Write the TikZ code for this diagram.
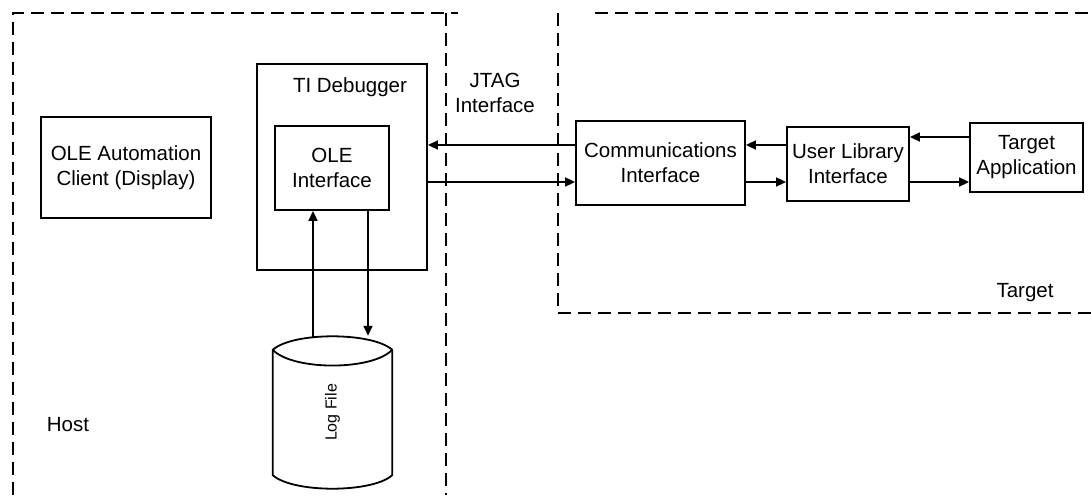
\documentclass[tikz,border=0pt]{standalone}
\usepackage{fontspec}
\setmainfont{Liberation Sans}
\usetikzlibrary{arrows.meta,calc}
\begin{document}
\begin{tikzpicture}[x=1pt,y=-1pt,
  every node/.style={font=\fontsize{20.5}{25}\selectfont},
  box/.style={draw,line width=1.8pt,rectangle,inner sep=0pt,align=center},
  region/.style={line width=2pt,dash pattern=on 13pt off 7pt},
  arr/.style={line width=1.6pt,-{Triangle[length=10pt,width=9pt]}},
  plain/.style={inner sep=0pt,align=center}]
\useasboundingbox (0,0) rectangle (1091,495);
% regions
\draw[region] (13,495) -- (13,13) -- (458,13);
\draw[region] (446,13) -- (446,495);
\draw[region] (558,13) -- (558,313) -- (1091,313);
\draw[region] (595,13) -- (1091,13);
% nodes
\node[box,minimum width=170pt,minimum height=101pt] (client) at (126,167.5) {OLE Automation\\Client (Display)};
\node[box,minimum width=170pt,minimum height=206pt] (ti) at (342,167) {};
\node[plain] (tilabel) at (350,87) {TI Debugger};
\node[box,minimum width=114pt,minimum height=84pt] (oleif) at (332,168) {OLE\\Interface};
\node[plain] (jtag) at (495,93) {JTAG\\Interface};
\node[box,minimum width=169pt,minimum height=84pt] (comm) at (660.5,163) {Communications\\Interface};
\node[box,minimum width=122pt,minimum height=74pt] (ulib) at (848,164) {User Library\\Interface};
\node[box,minimum width=113pt,minimum height=69pt] (tapp) at (1026.5,157.5) {Target\\Application};
\node[plain] (target) at (1025,293) {Target};
\node[plain] (host) at (68,425) {Host};
% log file
\node[plain,minimum width=119pt,minimum height=125pt] (lf) at (332.5,412.5) {};
\node[plain,rotate=90,font=\fontsize{16}{19}\selectfont] (lflabel) at (lf.center) {Log File};
\draw[line width=1.8pt] (lf.north west) .. controls ($(lf.north west)+(20,-18)$) and ($(lf.north east)+(-20,-18)$) .. (lf.north east)
  -- (lf.south east) .. controls ($(lf.south east)+(-20,18)$) and ($(lf.south west)+(20,18)$) .. (lf.south west) -- cycle;
\draw[line width=1.8pt] (lf.north west) .. controls ($(lf.north west)+(20,21)$) and ($(lf.north east)+(-20,21)$) .. (lf.north east);
\coordinate (lftop) at ([yshift=12pt]lf.north);
% connectors
\draw[arr] ([yshift=18pt]comm.west) -- ([yshift=18pt]comm.west -| ti.east);
\draw[arr] ([yshift=-19pt]comm.west -| ti.east) -- ([yshift=-19pt]comm.west);
\draw[arr] ([yshift=19pt]ulib.west) -- ([yshift=19pt]ulib.west -| comm.east);
\draw[arr] ([yshift=-18pt]ulib.west -| comm.east) -- ([yshift=-18pt]ulib.west);
\draw[arr] ([yshift=20.5pt]tapp.west) -- ([yshift=20.5pt]tapp.west -| ulib.east);
\draw[arr] ([yshift=-24.5pt]tapp.west -| ulib.east) -- ([yshift=-24.5pt]tapp.west);
\draw[arr] ([xshift=-19pt]oleif.south |- lftop) -- ([xshift=-19pt]oleif.south);
\draw[arr] ([xshift=36pt]oleif.south) -- ([xshift=36pt,yshift=2pt]oleif.south |- lftop);
\end{tikzpicture}
\end{document}
